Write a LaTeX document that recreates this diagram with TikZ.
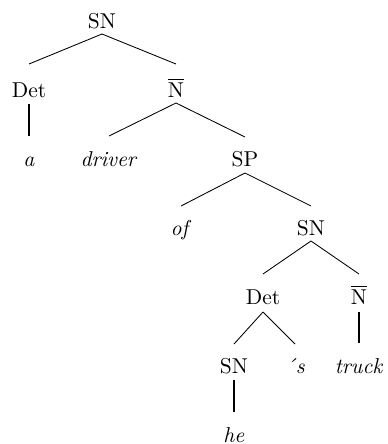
\documentclass[tikz,border=0pt]{standalone}
\usepackage{amsmath}
\begin{document}
\begin{tikzpicture}[x=0.465pt,y=-0.465pt,
  lab/.style={anchor=base,inner sep=0pt},
  br/.style={line width=0.4pt},
  thick br/.style={line width=1.1pt}]
\useasboundingbox (0,0) rectangle (388,444);
% nodes (base positions)
\node[lab] (sn1) at (102,28) {SN};
\node[lab] (det1) at (29,97) {Det};
\node[lab] (nb1) at (176,97) {$\overline{\mathrm{N}}$};
\node[lab] (a) at (29,166) {\textit{a}};
\node[lab] (driver) at (109,166) {\textit{driver}};
\node[lab] (sp) at (245,166) {SP};
\node[lab] (of) at (181,235) {\textit{of}};
\node[lab] (sn2) at (311,235) {SN};
\node[lab] (det2) at (263,304) {Det};
\node[lab] (nb2) at (359,304) {$\overline{\mathrm{N}}$};
\node[lab] (sn3) at (234,373) {SN};
\node[lab] (s) at (295,373) {\textit{\'{}s}};
\node[lab] (truck) at (359,373) {\textit{truck}};
\node[lab] (he) at (234,442) {\textit{he}};
% connectors
\draw[br] ([yshift=-6*0.465pt]sn1.base) -- ([yshift=33*0.465pt]det1.base);
\draw[br] ([yshift=-6*0.465pt]sn1.base) -- ([yshift=33*0.465pt]nb1.base);
\draw[thick br] ([yshift=-7*0.465pt]det1.base) -- ([yshift=30*0.465pt]a.base);
\draw[br] ([yshift=-6*0.465pt]nb1.base) -- ([yshift=30*0.465pt]driver.base);
\draw[br] ([yshift=-6*0.465pt]nb1.base) -- ([yshift=29*0.465pt]sp.base);
\draw[br] ([yshift=-7*0.465pt]sp.base) -- ([yshift=29*0.465pt]of.base);
\draw[br] ([yshift=-7*0.465pt]sp.base) -- ([yshift=29*0.465pt]sn2.base);
\draw[br] ([yshift=-6*0.465pt]sn2.base) -- ([yshift=30*0.465pt]det2.base);
\draw[br] ([yshift=-6*0.465pt]sn2.base) -- ([yshift=30*0.465pt]nb2.base);
\draw[br] ([yshift=-8*0.465pt]det2.base) -- ([yshift=29*0.465pt]sn3.base);
\draw[br] ([yshift=-8*0.465pt]det2.base) -- ([yshift=29*0.465pt]s.base);
\draw[thick br] ([yshift=-8*0.465pt]nb2.base) -- ([yshift=30*0.465pt]truck.base);
\draw[thick br] ([yshift=-7*0.465pt]sn3.base) -- ([yshift=30*0.465pt]he.base);
\end{tikzpicture}
\end{document}
